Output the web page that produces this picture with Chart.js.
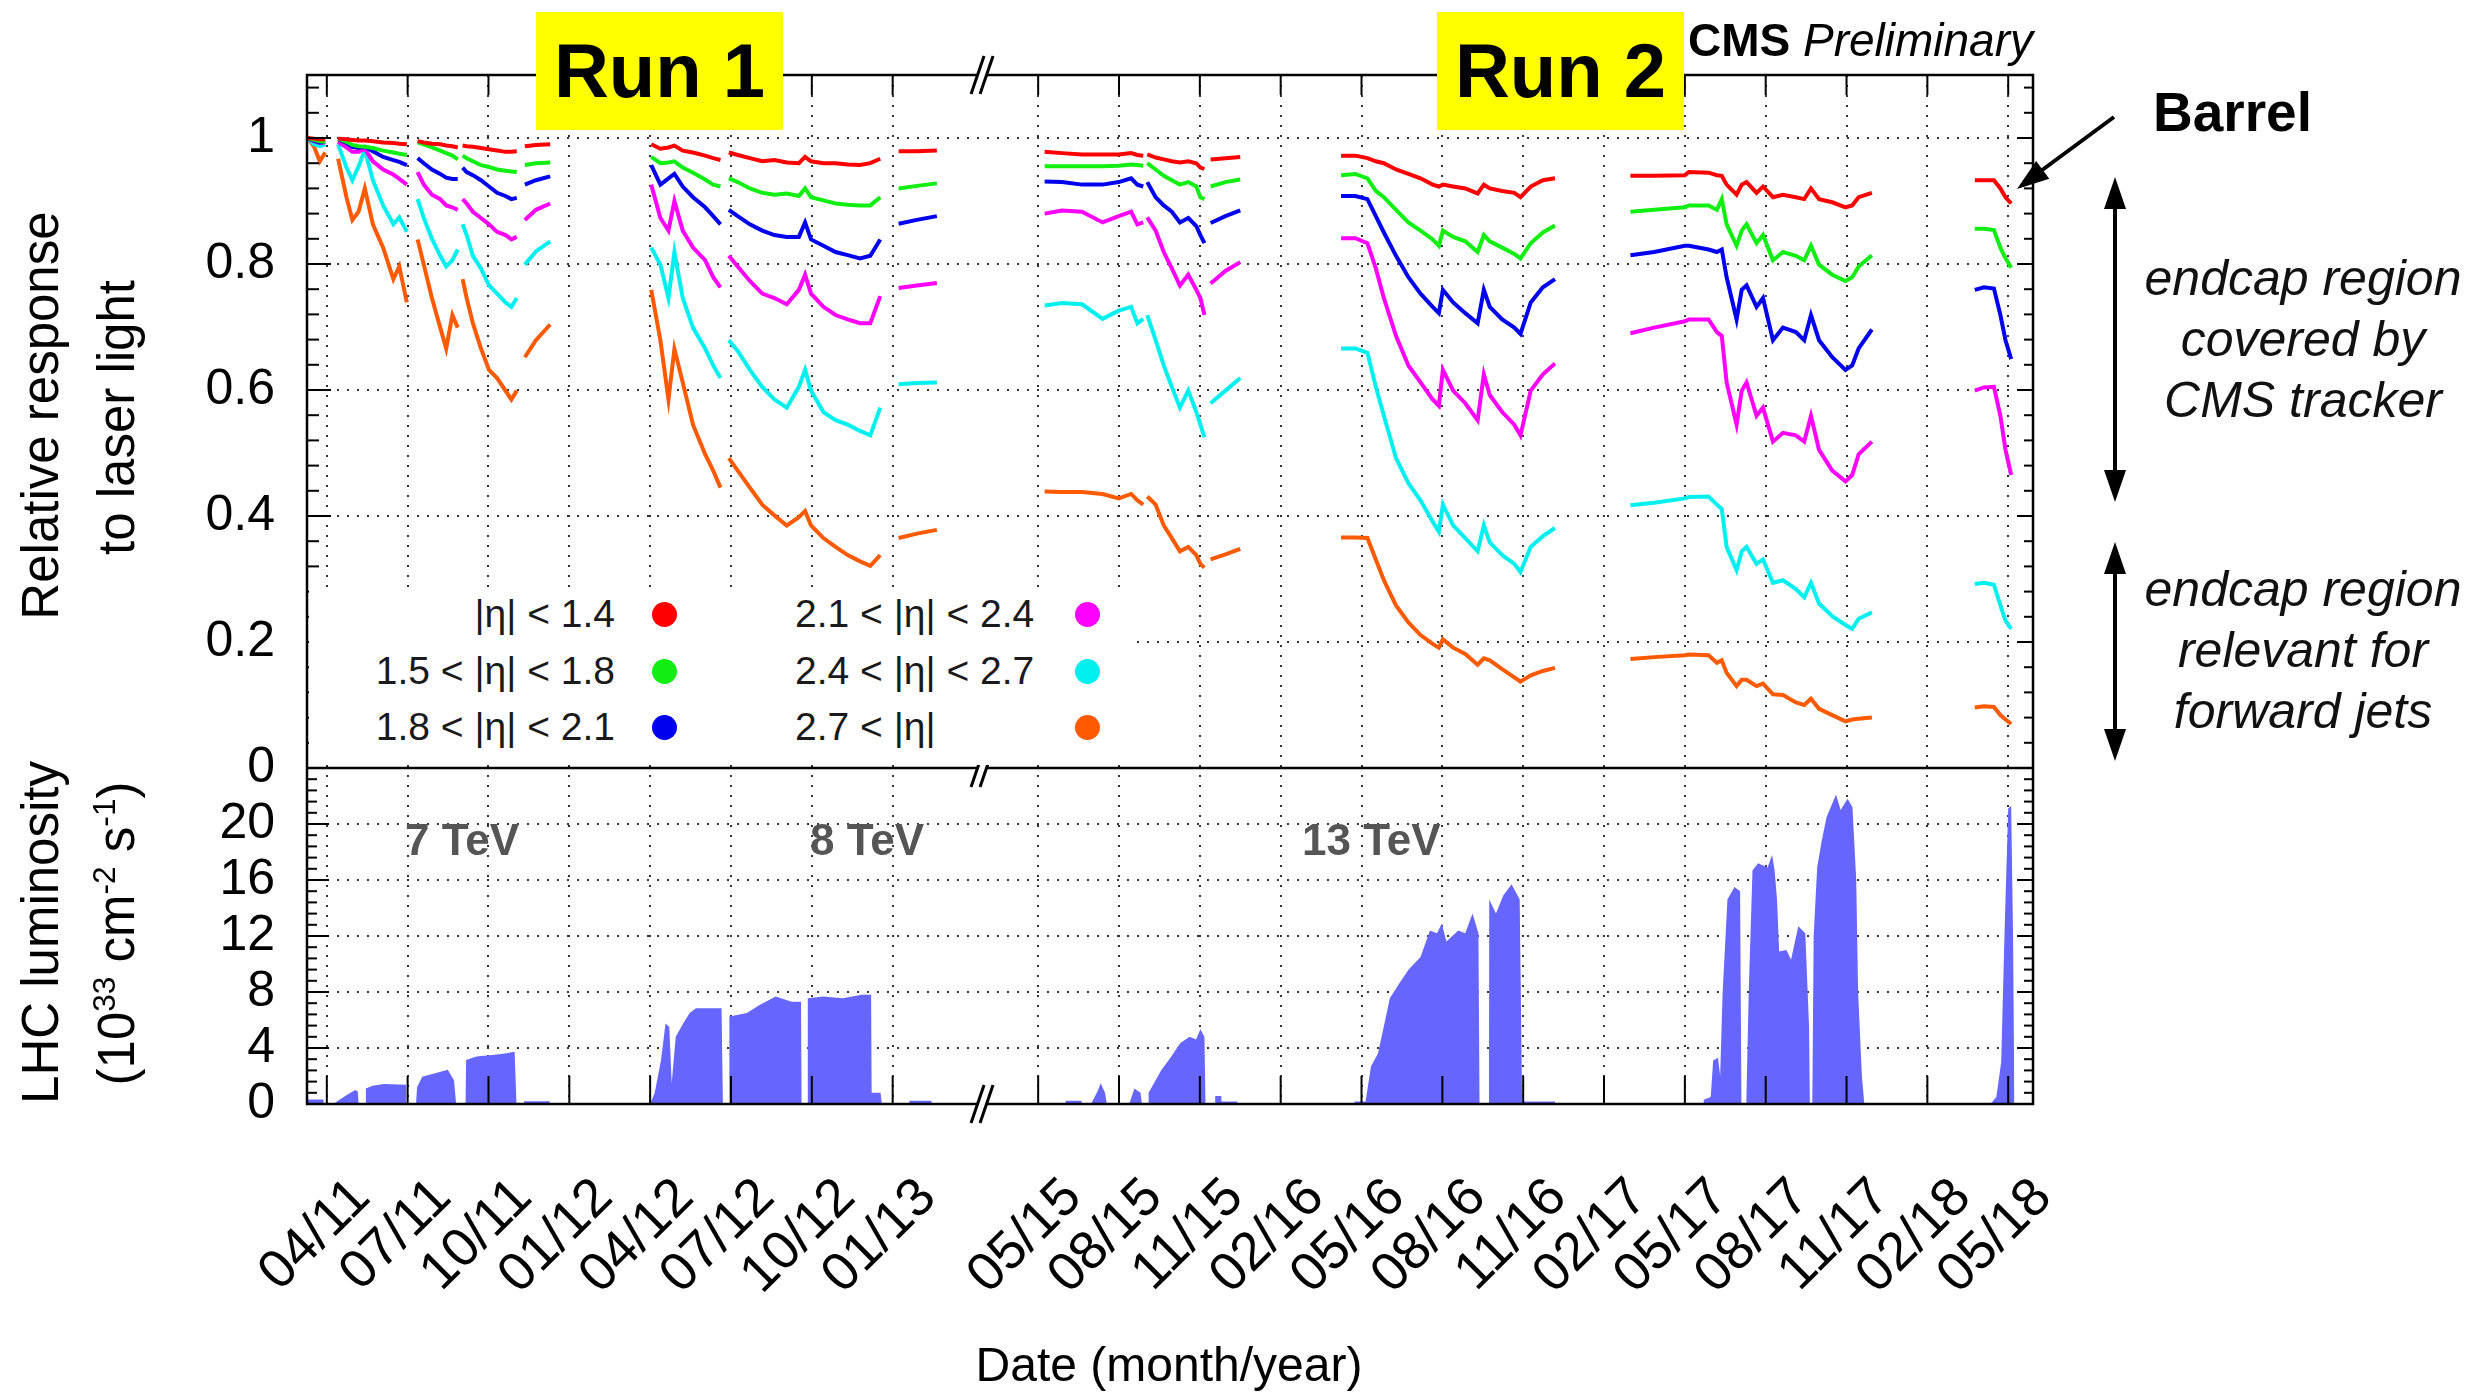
<!DOCTYPE html>
<html>
<head>
<meta charset="utf-8">
<title>ECAL relative response and LHC luminosity</title>
<script src="https://cdn.jsdelivr.net/npm/chart.js@4.4.0/dist/chart.umd.min.js"></script>
<style>
  body { margin: 0; background: #fff; }
  #wrap { position: relative; width: 2484px; height: 1396px; overflow: hidden;
          font-family: 'Liberation Sans', Arial, Helvetica, sans-serif; color: #000; }
  #wrap canvas { position: absolute; left: 0; top: 0; }
  .abs { position: absolute; white-space: nowrap; line-height: 1; }
  .run { position: absolute; top: 12px; width: 247px; height: 118px; line-height: 118px;
         background: #ffff00; font-weight: bold; font-size: 76px; text-align: center; }
  .rot { position: absolute; width: 600px; height: 51px; line-height: 51px; font-size: 51px;
         text-align: center; white-space: nowrap; transform: rotate(-90deg); }
  .rot sup { font-size: 0.62em; vertical-align: 0.6em; line-height: 0; }
  .tev { position: absolute; top: 818px; font-size: 44px; font-weight: bold; color: #555; line-height: 1; }
  .note { position: absolute; left: 2103px; width: 400px; text-align: center; font-style: italic;
          font-size: 50px; line-height: 61px; color: #111; }
  #legend { position: absolute; left: 309px; top: 588px; width: 826px; height: 177px; background: #fff; }
  .lg { position: absolute; font-size: 39px; line-height: 44px; height: 44px; color: #1a1a1a; white-space: nowrap; }
  .dot { position: absolute; width: 25px; height: 25px; border-radius: 50%; }
</style>
</head>
<body>
<div id="wrap">
  <canvas id="chart" width="2484" height="1396"></canvas>

  <div class="run" style="left:536px">Run 1</div>
  <div class="run" style="left:1437px">Run 2</div>
  <div class="abs" style="right:451px;top:17px;font-size:46px"><b>CMS</b> <i>Preliminary</i></div>
  <div class="abs" style="left:2153px;top:85px;font-size:55px;font-weight:bold">Barrel</div>
  <div class="note" style="top:248px">endcap region<br>covered by<br>CMS tracker</div>
  <div class="note" style="top:559px">endcap region<br>relevant for<br>forward jets</div>

  <div class="tev" style="left:405px">7 TeV</div>
  <div class="tev" style="left:810px">8 TeV</div>
  <div class="tev" style="left:1302px">13 TeV</div>

  <div id="legend"></div>

  <div class="rot" style="left:-260px;top:390px">Relative response</div>
  <div class="rot" style="left:-184px;top:392px">to laser light</div>
  <div class="rot" style="left:-260px;top:907px">LHC luminosity</div>
  <div class="rot" style="left:-184px;top:908px">(10<sup>33</sup> cm<sup>-2</sup> s<sup>-1</sup>)</div>
  <div class="abs" style="left:769px;width:800px;top:1341px;font-size:48px;text-align:center">Date (month/year)</div>
</div>

<script>
// months counted from Jan 2011 (04/11 = 3, 05/15 = 52 ...)
// the 2013-2015 shutdown is cut out of the axis
const GAP = 22.6;
const BREAK_AT = 27.28;
const X_MIN = 2.265, X_MAX = 66.32;
const toAxis = m => (m > 40 ? m - GAP : m);

const tickMonths = [3, 6, 9, 12, 15, 18, 21, 24, 52, 55, 58, 61, 64, 67, 70, 73, 76, 79, 82, 85, 88];
const tickLabels = ['04/11', '07/11', '10/11', '01/12', '04/12', '07/12', '10/12', '01/13',
  '05/15', '08/15', '11/15', '02/16', '05/16', '08/16', '11/16', '02/17', '05/17', '08/17', '11/17', '02/18', '05/18'];
const respTicks = [0, 0.2, 0.4, 0.6, 0.8, 1];
const lumiTicks = [0, 4, 8, 12, 16, 20];

// laser response, one row per month position, null = no data (gap between fills)
const respMonths = [
  2.29, 2.52, 2.74, 2.94, 3.2,
  3.42, 3.73, 3.95, 4.18, 4.41, 4.71, 5.09, 5.47, 5.69, 5.97, 6.2,
  6.37, 6.60, 6.90, 7.21, 7.43, 7.66, 7.86, 7.95,
  8.04, 8.19, 8.42, 8.72, 9.02, 9.32, 9.63, 9.85, 10.05, 10.2,
  10.35, 10.76, 11.29, 13,
  15.04, 15.38, 15.68, 15.90, 16.21, 16.59, 17.04, 17.34, 17.61, 17.8,
  17.92, 18.25, 18.70, 19.16, 19.61, 20.07, 20.52, 20.75, 20.97, 21.43, 21.88, 22.33, 22.79, 23.17, 23.54, 23.9,
  24.22, 24.90, 25.64, 50,
  52.24, 52.88, 53.63, 54.39, 54.99, 55.45, 55.68, 55.90, 55.98,
  56.05, 56.36, 56.66, 56.96, 57.26, 57.57, 57.87, 58.02, 58.17, 58.3,
  58.40, 58.95, 59.50, 61,
  63.24, 63.77, 64.22, 64.53, 64.83, 65.28, 65.74, 66.19, 66.64, 66.87, 67.02, 67.40, 67.85, 68.31, 68.54, 68.76, 69.22, 69.67, 69.90, 70.28, 70.73, 71.18, 72,
  73.98, 74.86, 76.00, 76.15, 76.88, 77.19, 77.37, 77.55, 77.92, 78.11, 78.29, 78.66, 78.90, 79.27, 79.64, 80.12, 80.43, 80.68, 80.98, 81.47, 81.96, 82.21, 82.45, 82.94, 85,
  86.76, 87.10, 87.47, 87.71, 87.90, 88.11
];

const respEta14 = [
  1.0, .999, .998, .998, null,
  .999, .998, .997, .996, .996, .995, .993, .992, .991, .990, null,
  .995, .993, .991, .990, .988, .987, .985, null,
  .988, .987, .986, .984, .982, .980, .978, .978, .979, null,
  .987, .989, .990, null,
  .990, .983, .985, .988, .980, .977, .972, .968, .965, null,
  .977, .973, .968, .963, .965, .961, .960, .970, .963, .960, .960, .958, .957, .960, .967, null,
  .979, .979, .980, null,
  .978, .976, .974, .974, .974, .976, .973, .972, null,
  .974, .969, .966, .963, .961, .963, .960, .953, .951, null,
  .966, .968, .970, null,
  .972, .972, .968, .963, .960, .950, .943, .936, .926, .923, .926, .923, .920, .912, .926, .920, .916, .913, .906, .923, .933, .936, null,
  .940, .940, .941, .946, .945, .941, .940, .926, .910, .926, .930, .913, .923, .906, .910, .906, .903, .920, .903, .898, .890, .893, .906, .913, null,
  .933, .933, .933, .920, .906, .896
];
const respEta18 = [
  1.0, .997, .995, .994, null,
  .999, .994, .989, .987, .986, .984, .980, .977, .975, .973, null,
  .993, .990, .985, .980, .976, .972, .966, null,
  .972, .968, .963, .957, .954, .950, .948, .947, .946, null,
  .957, .960, .961, null,
  .970, .960, .961, .963, .953, .945, .934, .926, .923, null,
  .936, .930, .920, .913, .910, .912, .908, .920, .906, .901, .896, .894, .893, .893, .906, null,
  .920, .924, .928, null,
  .955, .955, .955, .955, .956, .958, .957, .956, null,
  .960, .950, .940, .933, .926, .930, .923, .906, .903, null,
  .923, .930, .934, null,
  .941, .943, .936, .916, .906, .886, .866, .853, .839, .829, .853, .843, .836, .819, .846, .836, .826, .816, .809, .833, .850, .861, null,
  .883, .886, .890, .893, .893, .886, .903, .863, .829, .853, .863, .833, .846, .806, .819, .813, .806, .829, .799, .783, .773, .779, .796, .814, null,
  .856, .856, .854, .826, .809, .794
];
const respEta21 = [
  1.0, .996, .993, .994, null,
  .998, .992, .986, .984, .986, .979, .970, .965, .962, .957, null,
  .968, .960, .950, .943, .937, .935, .935, null,
  .953, .946, .941, .933, .923, .913, .908, .903, .905, null,
  .926, .933, .939, null,
  .957, .926, .936, .943, .923, .906, .890, .876, .863, null,
  .886, .876, .863, .853, .846, .843, .843, .866, .839, .829, .819, .814, .809, .813, .839, null,
  .864, .870, .876, null,
  .931, .930, .926, .926, .930, .936, .926, .923, null,
  .930, .906, .893, .883, .866, .873, .860, .846, .833, null,
  .865, .876, .885, null,
  .908, .908, .903, .876, .850, .813, .779, .753, .732, .722, .759, .739, .722, .706, .759, .732, .712, .699, .689, .739, .763, .776, null,
  .814, .819, .829, .829, .823, .819, .823, .779, .712, .759, .766, .732, .746, .679, .699, .692, .679, .719, .679, .652, .632, .639, .666, .696, null,
  .759, .763, .761, .719, .679, .649
];
const respEta24 = [
  1.0, .995, .992, .993, null,
  .994, .985, .978, .978, .983, .963, .950, .942, .935, .926, null,
  .946, .926, .910, .903, .893, .890, .886, null,
  .903, .896, .883, .873, .863, .851, .846, .839, .843, null,
  .870, .886, .896, null,
  .926, .873, .853, .900, .853, .826, .806, .779, .763, null,
  .813, .796, .773, .753, .746, .736, .759, .783, .753, .732, .719, .712, .706, .706, .749, null,
  .762, .766, .770, null,
  .880, .885, .883, .866, .876, .883, .863, .866, null,
  .874, .853, .819, .793, .766, .783, .759, .746, .719, null,
  .769, .789, .803, null,
  .841, .841, .833, .793, .746, .686, .639, .612, .585, .575, .632, .599, .579, .552, .625, .592, .565, .545, .528, .599, .625, .642, null,
  .690, .699, .709, .712, .712, .692, .686, .612, .545, .599, .612, .559, .572, .518, .532, .528, .518, .559, .505, .472, .455, .465, .498, .518, null,
  .599, .604, .605, .559, .505, .465
];
const respEta27 = [
  1.0, .990, .987, .990, null,
  .990, .953, .933, .955, .981, .933, .893, .863, .874, .851, null,
  .903, .873, .840, .813, .796, .806, .823, null,
  .863, .846, .813, .793, .766, .753, .739, .732, .746, null,
  .799, .820, .836, null,
  .826, .799, .746, .819, .746, .699, .666, .639, .619, null,
  .679, .662, .632, .605, .585, .572, .605, .632, .599, .565, .552, .545, .535, .528, .572, null,
  .609, .611, .612, null,
  .734, .738, .736, .713, .726, .732, .706, .713, null,
  .719, .679, .639, .605, .572, .599, .565, .545, .525, null,
  .579, .599, .619, null,
  .666, .666, .659, .605, .559, .492, .452, .425, .391, .375, .418, .385, .365, .344, .385, .358, .338, .324, .311, .351, .368, .381, null,
  .417, .421, .428, .430, .431, .418, .411, .351, .314, .344, .351, .324, .331, .294, .298, .284, .271, .294, .261, .241, .227, .221, .237, .247, null,
  .292, .294, .291, .258, .234, .221
];
const respEtaFwd = [
  1.0, .987, .963, .977, null,
  .967, .906, .870, .883, .920, .863, .826, .776, .796, .739, null,
  .839, .799, .746, .699, .666, .719, .699, null,
  .776, .746, .706, .666, .632, .619, .599, .585, .599, null,
  .652, .679, .704, null,
  .759, .679, .585, .665, .612, .545, .498, .472, .445, null,
  .492, .472, .445, .418, .401, .385, .398, .408, .385, .365, .351, .338, .328, .321, .338, null,
  .365, .372, .378, null,
  .439, .438, .438, .435, .428, .435, .425, .418, null,
  .431, .418, .385, .365, .344, .351, .338, .324, .318, null,
  .331, .339, .348, null,
  .366, .366, .365, .331, .298, .258, .231, .211, .197, .191, .204, .191, .181, .164, .174, .171, .157, .144, .137, .147, .154, .159, null,
  .173, .176, .179, .180, .179, .167, .171, .151, .130, .140, .140, .130, .134, .117, .116, .104, .100, .110, .094, .084, .074, .077, .078, .080, null,
  .096, .098, .097, .084, .077, .070
];

// peak instantaneous luminosity envelope (10^33 cm^-2 s^-1), each fill period closed to 0
const lumiMonths = [
  2.29, 2.29, 2.88, 2.88,
  3.24, 3.47, 3.83, 4.06, 4.15, 4.18,
  4.42, 4.45, 4.70, 5.13, 5.95, 5.95,
  6.31, 6.35, 6.54, 7.02, 7.49, 7.72, 7.80,
  8.15, 8.17, 8.55, 9.14, 9.61, 9.97, 10.04,
  10.32, 10.32, 11.27, 11.27,
  15.00, 15.17, 15.40, 15.57, 15.71, 15.80, 15.95, 16.23, 16.47, 16.70, 17.65, 17.70,
  17.93, 17.94, 18.59, 19.06, 19.66, 20.25, 20.60, 20.62,
  20.84, 20.85, 21.43, 22.14, 22.84, 23.20, 23.22, 23.55, 23.60,
  24.62, 24.62, 25.44, 25.44,
  53.02, 53.02, 53.61, 53.61,
  53.96, 54.20, 54.32, 54.48, 54.55,
  55.38, 55.57, 55.80, 55.85,
  56.09, 56.10, 56.56, 56.91, 57.27, 57.62, 57.86, 58.02, 58.17, 58.21,
  58.57, 58.57, 58.80, 58.80, 59.39, 59.39,
  63.74, 63.74, 64.15, 64.35, 64.61, 64.88, 65.05, 65.40, 65.75, 66.19, 66.54, 66.80, 66.98, 67.15, 67.59, 67.85, 68.12, 68.34, 68.38,
  68.73, 68.74, 68.99, 69.26, 69.57, 69.87, 69.96, 71.18, 71.18,
  76.70, 76.70, 76.96, 77.05, 77.23, 77.31, 77.40, 77.58, 77.84, 78.05, 78.10,
  78.28, 78.37, 78.51, 78.72, 79.07, 79.24, 79.33, 79.42, 79.50, 79.77, 79.94, 80.21, 80.47, 80.61, 80.64,
  80.73, 80.78, 80.91, 81.08, 81.26, 81.48, 81.61, 81.78, 82.04, 82.22, 82.36, 82.43, 82.57, 82.66,
  87.34, 87.56, 87.74, 87.86, 88.00, 88.11, 88.18, 88.23
];
const lumiValues = [
  0, .33, .33, 0,
  0, .3, .75, 1.0, .9, 0,
  0, 1.1, 1.3, 1.43, 1.38, 0,
  0, 1.2, 1.95, 2.2, 2.45, 1.7, 0,
  0, 3.15, 3.4, 3.5, 3.6, 3.74, 0,
  0, .2, .2, 0,
  0, .8, 3.1, 5.75, 5.5, 1.5, 4.8, 5.77, 6.5, 6.84, 6.84, 0,
  0, 6.25, 6.5, 7.08, 7.68, 7.3, 7.3, 0,
  0, 7.56, 7.68, 7.56, 7.8, 7.8, .8, .8, 0,
  0, .24, .24, 0,
  0, .24, .24, 0,
  0, .9, 1.48, .8, 0,
  0, 1.1, .8, 0,
  0, .8, 2.4, 3.3, 4.34, 4.8, 4.6, 5.34, 4.8, 0,
  0, .57, .57, .17, .17, 0,
  0, .17, .17, 2.67, 3.6, 6.0, 7.56, 8.6, 9.6, 10.5, 12.4, 12.2, 12.9, 11.6, 12.4, 12.2, 13.6, 12.2, 0,
  0, 14.6, 13.6, 14.9, 15.7, 14.6, .17, .17, 0,
  0, .3, .5, 3.1, 3.3, 2.0, 7.9, 14.6, 15.5, 15.2, 0,
  0, 8.0, 16.7, 17.2, 16.9, 17.8, 16.7, 14.6, 10.9, 11.0, 10.3, 12.7, 12.2, 5.5, 0,
  0, 12, 16.9, 18.8, 20.5, 21.5, 22.1, 21.0, 21.8, 21.2, 16, 8, 2, 0,
  0, .5, 3, 12, 21.1, 21.3, 12, 0
];

const seriesLabels = ['|η| < 1.4', '1.5 < |η| < 1.8', '1.8 < |η| < 2.1', '2.1 < |η| < 2.4', '2.4 < |η| < 2.7', '2.7 < |η|'];
const seriesColors = ['#ff0000', '#11ee11', '#0000ee', '#ff00ff', '#00f0f0', '#ff5a00'];
const seriesValues = [respEta14, respEta18, respEta21, respEta24, respEta27, respEtaFwd];

const datasets = [{
  label: 'LHC luminosity',
  yAxisID: 'yLumi',
  data: lumiMonths.map((m, i) => ({ x: toAxis(m), y: lumiValues[i] })),
  borderWidth: 0,
  borderColor: '#6666ff',
  backgroundColor: '#6666ff',
  fill: 'origin'
}];
seriesValues.forEach((vals, k) => {
  datasets.push({
    label: seriesLabels[k],
    yAxisID: 'yResp',
    data: respMonths.map((m, i) => ({ x: toAxis(m), y: vals[i] })),
    borderColor: seriesColors[k],
    borderWidth: 4,
    spanGaps: false,
    fill: false
  });
});

// legend block, two columns
const legend = document.getElementById('legend');
const rowsY = [614, 671, 727];
seriesLabels.forEach((lab, k) => {
  const col = k < 3 ? 0 : 1, row = k % 3;
  const t = document.createElement('div');
  t.className = 'lg';
  t.textContent = lab;
  t.style.top = (rowsY[row] - 22 - 588) + 'px';
  if (col === 0) { t.style.right = (1135 - 615) + 'px'; } else { t.style.left = (795 - 309) + 'px'; }
  legend.appendChild(t);
  const d = document.createElement('div');
  d.className = 'dot';
  d.style.background = seriesColors[k];
  d.style.left = ((col === 0 ? 664 : 1087) - 12.5 - 309) + 'px';
  d.style.top = (rowsY[row] - 12.5 - 588) + 'px';
  legend.appendChild(d);
});

const fontFamily = "'Liberation Sans', Arial, sans-serif";

function arrowHead(ctx, x1, y1, x2, y2) {
  const a = Math.atan2(y2 - y1, x2 - x1), len = 32, half = 11;
  ctx.beginPath();
  ctx.moveTo(x2, y2);
  ctx.lineTo(x2 - len * Math.cos(a) + half * Math.sin(a), y2 - len * Math.sin(a) - half * Math.cos(a));
  ctx.lineTo(x2 - len * Math.cos(a) - half * Math.sin(a), y2 - len * Math.sin(a) + half * Math.cos(a));
  ctx.closePath();
  ctx.fill();
}

// frame, inward ticks, axis break and the arrows on the right
const panelDecor = {
  id: 'panelDecor',
  afterDraw(chart) {
    const { ctx, chartArea: a, scales } = chart;
    const x = scales.x, yR = scales.yResp, yL = scales.yLumi;
    const mid = yR.bottom;
    const seg = (x1, y1, x2, y2) => { ctx.beginPath(); ctx.moveTo(x1, y1); ctx.lineTo(x2, y2); ctx.stroke(); };
    ctx.save();
    ctx.strokeStyle = '#000';
    ctx.fillStyle = '#000';
    ctx.lineWidth = 2.5;
    ctx.strokeRect(a.left, a.top, a.right - a.left, a.bottom - a.top);
    seg(a.left, mid, a.right, mid);

    ctx.lineWidth = 2;
    tickMonths.forEach(m => {
      const px = x.getPixelForValue(toAxis(m));
      seg(px, a.bottom, px, a.bottom - 28);
      seg(px, a.top, px, a.top + 20);
    });
    for (let i = 0; i <= 27; i++) {
      const py = yR.getPixelForValue(i * 0.04);
      const major = i % 5 === 0;
      seg(a.left, py, a.left + (major ? 24 : 12), py);
      seg(a.right, py, a.right - (major ? 16 : 9), py);
    }
    for (let i = 0; i <= 30; i++) {
      const py = yL.getPixelForValue(i * 0.8);
      const major = i % 5 === 0;
      seg(a.left, py, a.left + (major ? 22 : 10), py);
      seg(a.right, py, a.right - (major ? 16 : 9), py);
    }

    const bx = x.getPixelForValue(BREAK_AT);
    [a.top, mid, a.bottom].forEach(by => {
      ctx.fillStyle = '#fff';
      ctx.beginPath();
      ctx.moveTo(bx - 10, by + 19); ctx.lineTo(bx + 3, by - 19);
      ctx.lineTo(bx + 12, by - 19); ctx.lineTo(bx - 1, by + 19);
      ctx.closePath();
      ctx.fill();
      ctx.lineWidth = 3;
      seg(bx - 10, by + 19, bx + 3, by - 19);
      seg(bx - 1, by + 19, bx + 12, by - 19);
    });

    ctx.fillStyle = '#000';
    ctx.lineWidth = 4;
    seg(2114, 117, 2030, 179);
    arrowHead(ctx, 2114, 117, 2017, 189);
    seg(2115, 200, 2115, 480);
    arrowHead(ctx, 2115, 300, 2115, 177);
    arrowHead(ctx, 2115, 300, 2115, 502);
    seg(2115, 565, 2115, 740);
    arrowHead(ctx, 2115, 650, 2115, 542);
    arrowHead(ctx, 2115, 650, 2115, 761);
    ctx.restore();
  }
};

const gridOpts = { color: '#333', lineWidth: 2, drawTicks: false };
const borderOpts = { display: false, dash: [2, 8] };
const yTicks = { autoSkip: false, padding: 32, color: '#000', font: { family: fontFamily, size: 50 }, callback: v => String(v) };

new Chart(document.getElementById('chart'), {
  type: 'line',
  data: { datasets },
  options: {
    responsive: false,
    animation: false,
    devicePixelRatio: 1,
    layout: { padding: { left: 0, right: 451, top: 75, bottom: 0 } },
    elements: { point: { radius: 0 }, line: { tension: 0 } },
    plugins: { legend: { display: false }, tooltip: { enabled: false } },
    scales: {
      x: {
        type: 'linear',
        min: X_MIN,
        max: X_MAX,
        grid: gridOpts,
        border: borderOpts,
        afterBuildTicks: s => { s.ticks = tickMonths.map(m => ({ value: toAxis(m) })); },
        afterFit: s => { s.height = 292; },
        ticks: {
          autoSkip: false,
          minRotation: 45,
          maxRotation: 45,
          padding: 62,
          labelOffset: 35,
          color: '#000',
          font: { family: fontFamily, size: 54 },
          callback: (v, i) => tickLabels[i]
        }
      },
      yLumi: {
        type: 'linear',
        position: 'left',
        stack: 'panels',
        stackWeight: 336,
        min: 0,
        max: 24,
        grid: gridOpts,
        border: borderOpts,
        afterBuildTicks: s => { s.ticks = lumiTicks.map(v => ({ value: v })); },
        afterFit: s => { s.width = 307; },
        ticks: yTicks
      },
      yResp: {
        type: 'linear',
        position: 'left',
        stack: 'panels',
        stackWeight: 693,
        min: 0,
        max: 1.1,
        grid: gridOpts,
        border: borderOpts,
        afterBuildTicks: s => { s.ticks = respTicks.map(v => ({ value: v })); },
        afterFit: s => { s.width = 307; },
        ticks: yTicks
      }
    }
  },
  plugins: [panelDecor]
});
</script>
</body>
</html>
